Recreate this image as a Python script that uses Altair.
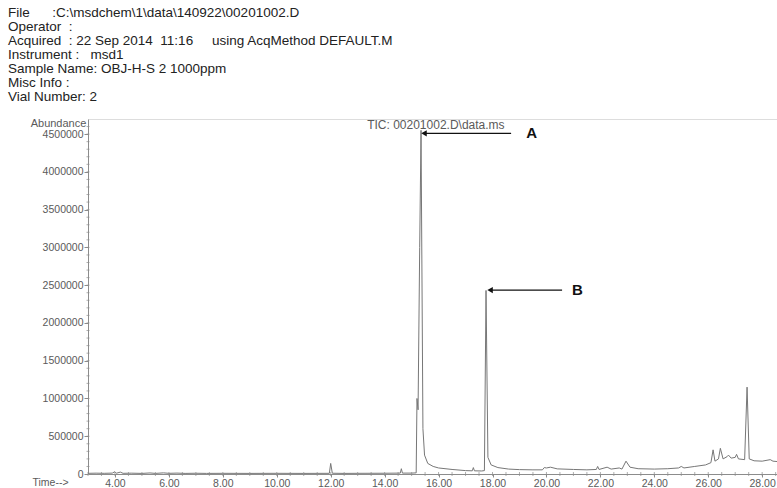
import altair as alt
import pandas as pd

NB = "\u00a0"

# Report header printed above the chromatogram
header_lines = [
    "File" + NB * 6 + ":C:\\msdchem\\1\\data\\140922\\00201002.D",
    "Operator" + NB * 2 + ":",
    "Acquired" + NB * 2 + ":" + NB + "22 Sep 2014" + NB * 2 + "11:16" + NB * 5 + "using AcqMethod DEFAULT.M",
    "Instrument" + NB + ":" + NB * 3 + "msd1",
    "Sample Name: OBJ-H-S 2 1000ppm",
    "Misc Info" + NB + ":",
    "Vial Number: 2",
]

# Total ion chromatogram: retention time (min) and abundance
rt = [
    3.00, 3.30, 3.60, 3.90, 4.00, 4.05, 4.20, 4.30, 4.60, 5.00, 5.30, 5.50,
    5.80, 6.00, 6.30, 6.60, 7.00, 7.40, 8.00, 9.00, 10.00, 11.00, 11.95, 12.00,
    12.06, 12.50, 13.00, 14.00, 14.58, 14.62, 14.66, 15.00, 15.17, 15.20, 15.24,
    15.30, 15.35, 15.42, 15.48, 15.60, 15.80, 16.00, 16.50, 17.00, 17.25, 17.29,
    17.33, 17.60, 17.70, 17.76, 17.83, 17.95, 18.20, 18.60, 19.00, 19.50, 19.85,
    19.92, 20.00, 20.15, 20.40, 21.00, 21.50, 21.85, 21.90, 21.95, 22.25, 22.40,
    22.70, 22.80, 22.95, 23.10, 23.40, 24.00, 24.50, 24.90, 25.00, 25.10, 25.50,
    25.90, 26.10, 26.18, 26.25, 26.38, 26.45, 26.55, 26.70, 26.75, 26.85, 27.00,
    27.05, 27.12, 27.35, 27.44, 27.52, 27.70, 28.00, 28.30, 28.40, 28.55,
]
abundance = [
    9000, 11000, 9000, 12000, 30000, 10000, 25000, 9000, 11000, 8000, 14000, 8000,
    15000, 9000, 12000, 8000, 10000, 8000, 9000, 8000, 9000, 8000, 9000, 140000,
    10000, 8000, 9000, 10000, 12000, 70000, 12000, 12000, 15000, 1000000, 850000,
    3000000, 4550000, 600000, 250000, 140000, 100000, 80000, 60000, 45000, 42000, 85000,
    42000, 40000, 45000, 2430000, 220000, 120000, 85000, 65000, 58000, 55000, 55000,
    85000, 80000, 90000, 68000, 60000, 55000, 60000, 100000, 60000, 90000, 65000,
    80000, 65000, 170000, 90000, 70000, 65000, 70000, 80000, 100000, 80000, 100000,
    120000, 150000, 320000, 170000, 200000, 340000, 200000, 230000, 250000, 210000, 220000,
    260000, 200000, 190000, 1150000, 200000, 175000, 170000, 190000, 170000, 165000,
]

x_labels = [4, 6, 8, 10, 12, 14, 16, 18, 20, 22, 24, 26, 28]
x_minor = [3 + 0.5 * i for i in range(52)]
y_labels = [0, 500000, 1000000, 1500000, 2000000, 2500000, 3000000, 3500000, 4000000, 4500000]
y_minor = [100000 * i for i in range(1, 47)]

# Peak annotations: arrow start, arrow tip, label position
peak_names = ["A", "B"]
arrow_from = [18.69, 20.58]
arrow_to = [15.46, 17.91]
arrow_level = [4510000, 2435000]
label_rt = [19.45, 21.15]

trace = pd.DataFrame({"rt": rt, "abundance": abundance})
notes = pd.DataFrame({
    "name": peak_names, "x0": arrow_from, "x1": arrow_to,
    "y": arrow_level, "lx": label_rt,
})
tic = pd.DataFrame({"rt": [15.9], "abundance": [4620000], "label": ["TIC: 00201002.D\\data.ms"]})
xm = pd.DataFrame({"rt": x_minor})
ym = pd.DataFrame({"abundance": y_minor})

FONT = "Liberation Sans"
AX = "#8c8c8c"
LAB = "#5a5a5a"

xscale = alt.Scale(domain=[3, 28.55], nice=False, zero=False)
yscale = alt.Scale(domain=[0, 4700000], nice=False)

x_axis = alt.Axis(
    values=x_labels, format=".2f", title="Time-->", titleX=-38, titleY=8,
    titleAlign="center", titleBaseline="middle", titleFontWeight="normal",
    titleFontSize=10.5, titleColor=LAB, titleFont=FONT,
    labelFont=FONT, labelFontSize=10.5, labelColor=LAB, labelPadding=1,
    labelOverlap=False, tickSize=3, tickColor=AX, domainColor=AX, grid=False,
)
y_axis = alt.Axis(
    values=y_labels, format="d", title="Abundance", titleAngle=0, titleX=-30, titleY=4,
    titleAlign="center", titleBaseline="middle", titleFontWeight="normal",
    titleFontSize=11, titleColor=LAB, titleFont=FONT,
    labelFont=FONT, labelFontSize=10.5, labelColor=LAB, labelPadding=1,
    labelOverlap=False, tickSize=4, tickColor=AX, domainColor=AX, grid=False,
)


def X(field):
    return alt.X(field, scale=xscale, axis=x_axis, title="Time-->")


def Y(field):
    return alt.Y(field, scale=yscale, axis=y_axis, title="Abundance")


line = alt.Chart(trace).mark_line(color="#777777", strokeWidth=1, clip=True).encode(
    x=X("rt:Q"), y=Y("abundance:Q"),
)

# Small intermediate ticks along both axis lines
x_minor_ticks = alt.Chart(xm).mark_tick(
    orient="vertical", color=AX, size=4, thickness=1
).encode(x=X("rt:Q"), y=alt.YDatum(0, scale=yscale, axis=y_axis, title="Abundance"))
y_minor_ticks = alt.Chart(ym).mark_tick(
    orient="horizontal", color=AX, size=3, thickness=1
).encode(x=alt.XDatum(3, scale=xscale, axis=x_axis, title="Time-->"), y=Y("abundance:Q"))

arrows = alt.Chart(notes).mark_rule(color="#111111", strokeWidth=1.4).encode(
    x=X("x0:Q"), x2="x1:Q", y=Y("y:Q"),
)
heads = alt.Chart(notes).mark_point(
    shape="triangle-left", filled=True, color="#111111", size=40, opacity=1
).encode(x=X("x1:Q"), y=Y("y:Q"))
letters = alt.Chart(notes).mark_text(
    font=FONT, fontSize=15, fontWeight="bold", color="#111111", align="center", baseline="middle"
).encode(x=X("lx:Q"), y=Y("y:Q"), text="name:N")

tic_label = alt.Chart(tic).mark_text(
    font=FONT, fontSize=12, color=LAB, align="center", baseline="middle"
).encode(x=X("rt:Q"), y=Y("abundance:Q"), text="label:N")

chart = (
    alt.layer(line, arrows, heads, letters, tic_label, x_minor_ticks, y_minor_ticks)
    .properties(
        width=689, height=355,
        autosize=alt.AutoSizeParams(type="none"),
        padding={"left": 88, "top": 119, "right": 0, "bottom": 14},
        title=alt.TitleParams(
            text=header_lines, anchor="start", frame="group", dx=-80, offset=10, dy=-4,
            font=FONT, fontSize=13.5, fontWeight="normal", color="#222222", lineHeight=14,
        ),
    )
    .configure_view(stroke=None)
    .configure(background="white")
)

chart.save("out.html", embed_options={"renderer": "svg", "actions": False})
